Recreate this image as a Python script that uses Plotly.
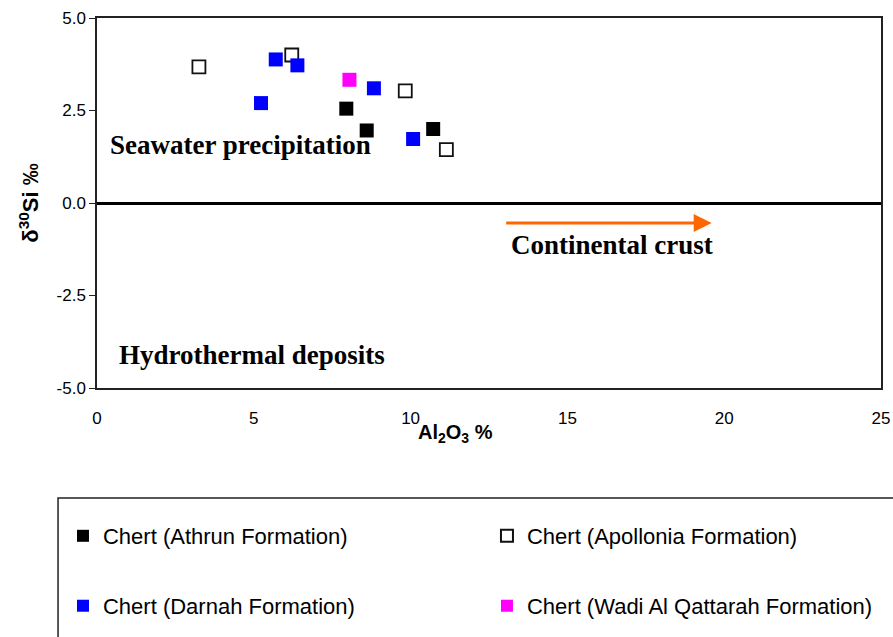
import plotly.graph_objects as go

# Data
athrun_x = [7.95, 8.60, 10.72]
athrun_y = [2.55, 1.96, 2.00]
apollonia_x = [3.25, 6.21, 9.83, 11.14]
apollonia_y = [3.68, 4.00, 3.03, 1.44]
darnah_x = [5.23, 5.70, 6.39, 8.83, 10.08]
darnah_y = [2.70, 3.88, 3.72, 3.10, 1.73]
wadi_x = [8.05]
wadi_y = [3.33]

x_ticks = [0, 5, 10, 15, 20, 25]
y_ticks = [-5.0, -2.5, 0.0, 2.5, 5.0]

fig = go.Figure()
fig.add_trace(go.Scatter(x=athrun_x, y=athrun_y, mode="markers", name="Chert (Athrun Formation)",
                         marker=dict(symbol="square", size=14, color="black", line=dict(width=0)),
                         legend="legend"))
fig.add_trace(go.Scatter(x=apollonia_x, y=apollonia_y, mode="markers", name="Chert (Apollonia Formation)",
                         marker=dict(symbol="square", size=13, color="white", line=dict(width=1.8, color="#111")),
                         legend="legend2"))
fig.add_trace(go.Scatter(x=darnah_x, y=darnah_y, mode="markers", name="Chert (Darnah Formation)",
                         marker=dict(symbol="square", size=14, color="#0000FF", line=dict(width=0)),
                         legend="legend3"))
fig.add_trace(go.Scatter(x=wadi_x, y=wadi_y, mode="markers", name="Chert (Wadi Al Qattarah Formation)",
                         marker=dict(symbol="square", size=14, color="#FF00FF", line=dict(width=0)),
                         legend="legend4"))

serif = dict(family="Liberation Serif", size=27, color="black")
fig.add_annotation(x=4.56, y=1.57, text="<b>Seawater precipitation</b>", showarrow=False, font=serif)
fig.add_annotation(x=4.94, y=-4.11, text="<b>Hydrothermal deposits</b>", showarrow=False, font=serif)
fig.add_annotation(x=16.42, y=-1.14, text="<b>Continental crust</b>", showarrow=False, font=serif)
fig.add_annotation(x=19.6, y=-0.54, ax=13.0, ay=-0.54, xref="x", yref="y", axref="x", ayref="y",
                   text="", showarrow=True, arrowhead=2, arrowsize=1.2, arrowwidth=3, arrowcolor="#FF6600")

# x-axis title (placed left of centre as in the reference)
fig.add_annotation(x=0.457, y=-0.124, xref="paper", yref="paper", showarrow=False,
                   xanchor="center", yanchor="middle",
                   text="<b>Al<sub>2</sub>O<sub>3</sub> %</b>",
                   font=dict(family="Liberation Sans, Arial", size=20, color="black"))

# legend frame
fig.add_shape(type="rect", xref="paper", yref="paper", x0=-0.0497, x1=1.06, y0=-0.75, y1=-0.297,
              line=dict(color="#222", width=1.5), fillcolor="rgba(0,0,0,0)")

legfont = dict(family="Liberation Sans, Arial", size=22, color="black")
col1_x, col2_x = -0.0434, 0.4974
row1_y, row2_y = -0.40, -0.589


def leg(x, y):
    return dict(x=x, y=y, xanchor="left", yanchor="middle", font=legfont,
                bgcolor="rgba(0,0,0,0)", itemsizing="constant")


fig.update_layout(
    width=893, height=637,
    margin=dict(l=97, r=12, t=18, b=249, autoexpand=False),
    paper_bgcolor="white", plot_bgcolor="white",
    showlegend=True,
    legend=leg(col1_x, row1_y),
    legend2=leg(col2_x, row1_y),
    legend3=leg(col1_x, row2_y),
    legend4=leg(col2_x, row2_y),
    xaxis=dict(range=[0, 25], tickvals=x_ticks, ticktext=[str(v) for v in x_ticks],
               showgrid=False, zeroline=False, showline=True, linecolor="#222", linewidth=1.5,
               mirror=True, ticks="outside", ticklen=14, tickcolor="rgba(255,255,255,0)",
               tickfont=dict(family="Liberation Sans, Arial", size=17, color="black")),
    yaxis=dict(range=[-5, 5], tickvals=y_ticks, ticktext=["%.1f" % v for v in y_ticks],
               showgrid=False, zeroline=True, zerolinecolor="black", zerolinewidth=3,
               showline=True, linecolor="#222", linewidth=1.5, mirror=True,
               ticks="outside", ticklen=6, tickcolor="#222",
               tickfont=dict(family="Liberation Sans, Arial", size=17, color="black"),
               title=dict(text="<b>δ<sup>30</sup>Si ‰</b>", standoff=12,
                          font=dict(family="Liberation Sans, Arial", size=22, color="black"))),
)

fig.write_html("out.html")
